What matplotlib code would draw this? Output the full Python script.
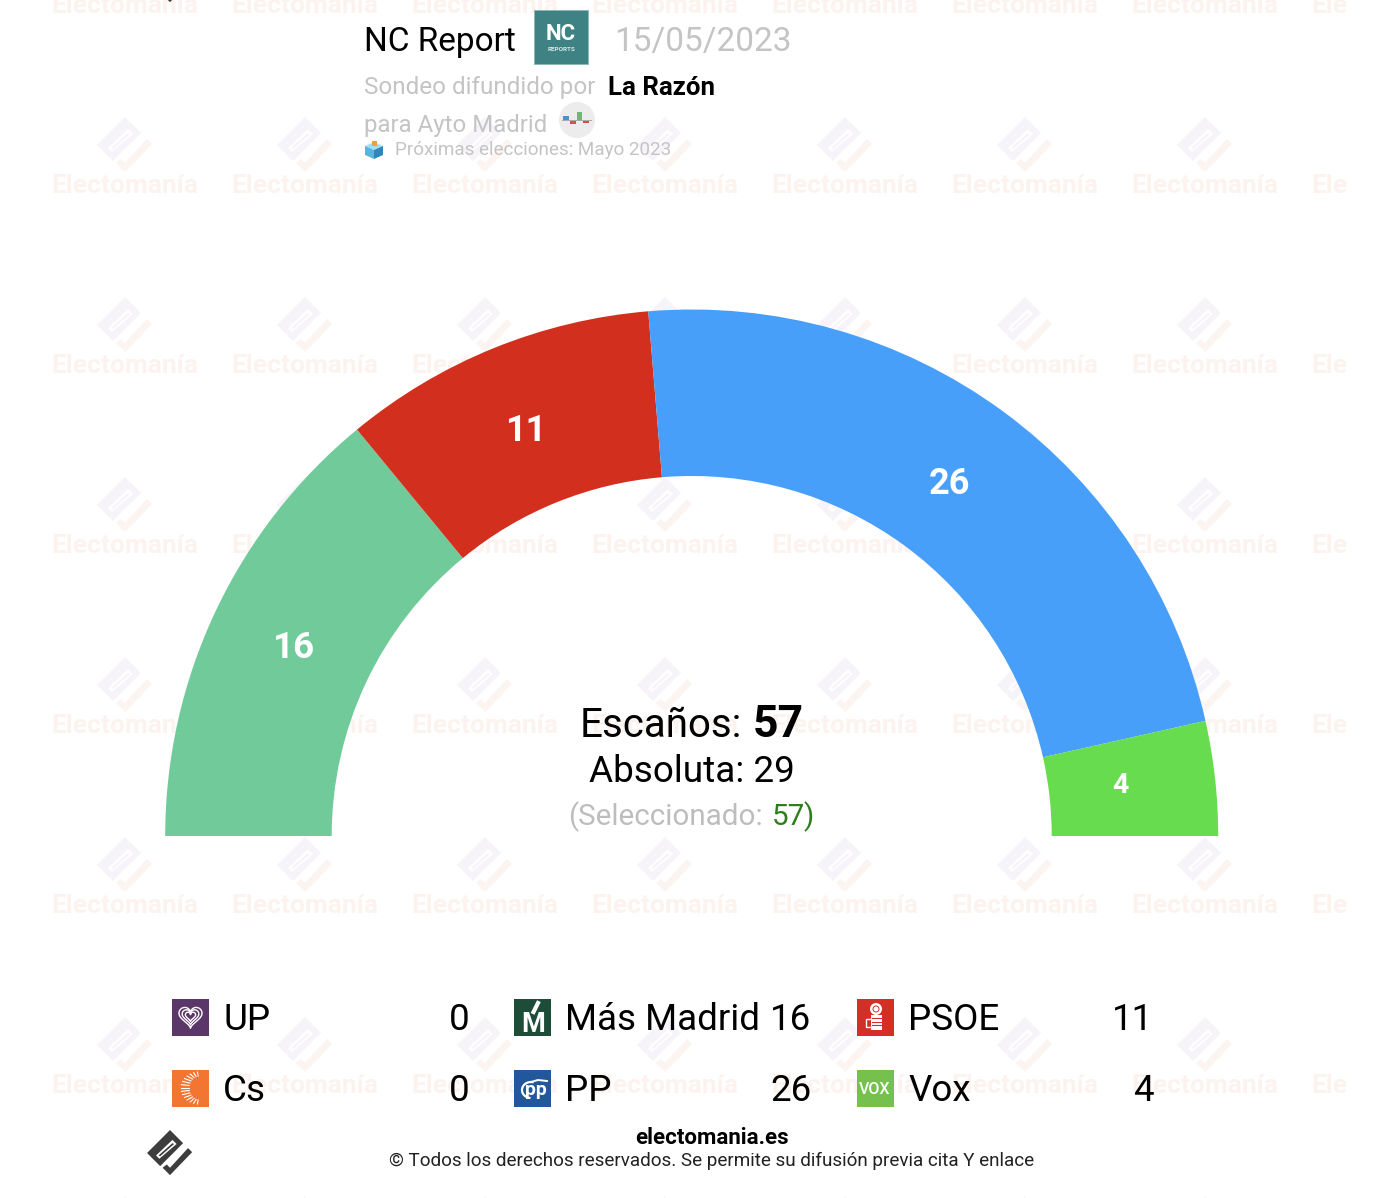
import numpy as np
import matplotlib
matplotlib.use("Agg")
import matplotlib.pyplot as plt
from matplotlib.patches import Polygon, Rectangle, Circle

W, H = 1374, 1198
parties = ["UP", "Más Madrid", "PSOE", "Cs", "PP", "Vox"]
seats = [0, 16, 11, 0, 26, 4]
colors = ["#5a3a6e", "#71ca9a", "#d32f1f", "#f3762f", "#479ff9", "#66dc4e"]
icon_colors = ["#5b3668", "#1d4d38", "#d32f27", "#f37532", "#21579b", "#76c04e"]
total_seats = 57
majority = 29
selected = 57
pollster = "NC Report"
poll_date = "15/05/2023"
media = "La Razón"
WM = "Electomanía"

plt.rcParams["font.family"] = ["Roboto", "DejaVu Sans"]
fig = plt.figure(figsize=(W / 100, H / 100), dpi=100, facecolor="white")
ax = fig.add_axes([0, 0, 1, 1])
ax.set_xlim(0, W)
ax.set_ylim(H, 0)
ax.axis("off")

clip = Rectangle((0, 0), 1348, H, transform=ax.transData)

LOGO = [(0, -28), (16, -12), (-12, 16), (-28, 0)]
SLIT = [(3, -16), (8, -11), (-13, 7), (-17, 3)]
SLIT2 = [(3, -12), (5, -11), (-12, 4), (-14, 3)]
CHECK = [(22, -6), (27, -1), (0, 27), (-9, 18), (-4, 14), (0, 18)]


def logo(cx, cy, s, c1, c2, z=1):
    for pts, c in [(LOGO, c1), (SLIT, "white"), (SLIT2, c1), (CHECK, c2)]:
        p = Polygon([(cx + s * x, cy + s * y) for x, y in pts], closed=True, fc=c, ec="none", zorder=z)
        ax.add_patch(p)
        p.set_clip_path(clip)


for i in range(8):
    for j in range(7):
        cx = 125 + 180 * i
        cy = -35 + 180 * j
        logo(cx, cy, 1, "#f6f3f9", "#fbf4f0")
        t = ax.text(cx, cy + 41, WM, ha="center", va="center", fontsize=19, fontweight="bold",
                    color="#fcf3ef", zorder=1, clip_on=True)
        t.set_clip_path(clip)
    logo(125 + 180 * i, 1225, 1, "#e8e8e8", "#f5f5f5")

# semicircle
CX, CY, R_OUT, R_IN = 691.7, 836, 526.5, 360
vals = seats + [sum(seats)]
wedges, _ = ax.pie(vals, colors=colors + ["none"], startangle=180, counterclock=True,
                   radius=R_OUT, center=(CX, CY), frame=True, wedgeprops=dict(width=R_OUT - R_IN, lw=0))
ax.set_xlim(0, W)
ax.set_ylim(H, 0)
ax.set_aspect("auto")
ax.axis("off")
for w in wedges:
    w.set_zorder(3)

label_style = {16: (440, 0, 26.5), 11: (440, 3, 26), 26: (436, -1, 26), 4: (431, -3, 20.5)}
cum = 0
for n, v in zip(parties, seats):
    if v:
        r, dy, fs = label_style[v]
        a = np.deg2rad(180 * (cum + v / 2) / total_seats)
        ax.text(CX - r * np.cos(a), CY - r * np.sin(a) + dy, str(v), ha="center", va="center",
                color="white", fontweight="bold", fontsize=fs, zorder=4)
    cum += v

# centre text
ax.text(742, 737, "Escaños:", ha="right", va="baseline", fontsize=29, zorder=5, color="black")
ax.text(753, 737, str(total_seats), ha="left", va="baseline", fontsize=32, fontweight="bold", zorder=5, color="black")
ax.text(692, 782, f"Absoluta: {majority}", ha="center", va="baseline", fontsize=26.6, zorder=5, color="black")
ax.text(763, 825, "(Seleccionado:", ha="right", va="baseline", fontsize=21.3, color="#bdbdbd", zorder=5)
ax.text(771.5, 825, str(selected), ha="left", va="baseline", fontsize=21.3, color="#2f7d1e", zorder=5)
ax.text(803, 825, ")", ha="left", va="baseline", fontsize=21.3, color="#2f7d1e", zorder=5)

# header
ax.text(364, 51, pollster, fontsize=24, color="black", va="baseline", zorder=5)
ax.add_patch(Rectangle((534, 10), 54, 54, fc="#3f8283", ec="#8db8b8", lw=0.7, zorder=5))
ax.text(561, 34, "NC", fontsize=16, fontweight="bold", color="white", ha="center", va="center", zorder=6)
ax.text(561, 49.5, "REPORTS", fontsize=4.6, fontweight="bold", color="#d8e8e8", ha="center", va="center", zorder=6)
ax.text(614, 51, poll_date, fontsize=24, color="#c4c4c4", va="baseline", zorder=5)
ax.text(364, 94, "Sondeo difundido por", fontsize=17.5, color="#c4c4c4", va="baseline", zorder=5)
ax.text(608, 95, media, fontsize=18.6, fontweight="bold", color="black", va="baseline", zorder=5)
ax.text(364, 132, "para Ayto Madrid", fontsize=17.3, color="#c4c4c4", va="baseline", zorder=5)
ax.add_patch(Circle((577, 120), 18, fc="#ececec", ec="none", zorder=5))
for x0, y0, w_, h_, c in [(563, 116, 6, 4, "#4a8fd0"), (570, 120.5, 6, 3.5, "#d9503c"),
                          (577, 112, 5, 8, "#6cba6c"), (583, 120.5, 6, 2.5, "#d9503c")]:
    ax.add_patch(Rectangle((x0, y0), w_, h_, fc=c, ec="none", zorder=6))
ax.plot([562, 591], [120.3, 120.3], color="#aaaaaa", lw=0.7, zorder=6)
# ballot box
ax.add_patch(Polygon([(365, 146), (374, 142), (383, 146), (374, 150)], fc="#a6dcee", ec="none", zorder=6))
ax.add_patch(Polygon([(365, 146), (374, 150), (374, 159), (365, 155)], fc="#5ab4dc", ec="none", zorder=6))
ax.add_patch(Polygon([(374, 150), (383, 146), (383, 155), (374, 159)], fc="#2f86b8", ec="none", zorder=6))
ax.add_patch(Rectangle((372, 141), 5, 5, fc="#f0a040", ec="none", zorder=7))
ax.text(395, 155, "Próximas elecciones: Mayo 2023", fontsize=13.6, color="#c4c4c4", va="baseline", zorder=5)

# legend
col_icon = [172, 514, 857]
col_val = [469.5, 811.5, 1153.5]
row_y = [999, 1070]
for k, (n, v, c) in enumerate(zip(parties, seats, icon_colors)):
    x = col_icon[k % 3]
    y = row_y[k // 3]
    ax.add_patch(Rectangle((x, y), 36.5, 36.5, fc=c, ec="none", lw=0, zorder=5))
    ax.text(x + 51, y + 31, n, fontsize=26.5, color="black", va="baseline", zorder=5)
    ax.text(col_val[k % 3], y + 31, str(v), fontsize=26.5, color="black", va="baseline", ha="right", zorder=5)

# icon glyphs
ax.text(536, 1095, "pp", fontsize=14, fontweight="bold", color="white", ha="center", va="baseline", zorder=6)
th = np.deg2rad(np.linspace(80, 260, 30))
ax.plot(531 + 9 * np.cos(th), 1090 - 8 * np.sin(th), color="white", lw=1.6, zorder=6)
ax.plot([531, 538, 547], [1082, 1080, 1081], color="white", lw=1.4, zorder=6)
ax.text(875, 1089, "VOX", fontsize=11.5, fontweight="medium", color="white", ha="center", va="center", zorder=6)
ax.text(533.5, 1032, "M", fontsize=19.5, fontweight="bold", color="white", ha="center", va="baseline", zorder=6)
ax.plot([533.5, 538], [1012, 1003], color="white", lw=3, zorder=6)
th = np.linspace(0, 2 * np.pi, 120)
hx, hy = 16 * np.sin(th) ** 3, 13 * np.cos(th) - 5 * np.cos(2 * th) - 2 * np.cos(3 * th) - np.cos(4 * th)
for s in [0.72, 0.52, 0.32]:
    ax.plot(190.5 + s * hx, 1016 - s * hy, color="white", lw=1, zorder=6)
for a in np.linspace(-85, 85, 15):
    r = np.deg2rad(a)
    ax.plot([199 - 10 * np.cos(r), 199 - 18 * np.cos(r)],
            [1088 - 12 * np.sin(r), 1088 - 16 * np.sin(r)], color="white", lw=0.8, zorder=6)
ax.add_patch(Circle((876, 1009), 6, fc="white", ec="none", zorder=6))
ax.add_patch(Circle((876, 1009), 3, fc="none", ec="#d32f27", lw=0.7, zorder=7))
ax.add_patch(Rectangle((871, 1015), 11, 15, fc="white", ec="none", zorder=6))
ax.add_patch(Rectangle((865.5, 1019), 7, 8, fc="none", ec="white", lw=1, zorder=6))
for yy in [1018, 1021.5, 1025]:
    ax.plot([872, 882], [yy, yy], color="#d32f27", lw=0.8, zorder=7)

# footer
logo(170, 1153, 0.82, "#3d3d3d", "#3d3d3d", z=6)
logo(170, -20, 0.82, "#3d3d3d", "#3d3d3d", z=6)
ax.text(711.5, 1144, "electomania.es", fontsize=16, fontweight="bold", color="black", ha="center", va="baseline", zorder=5)
ax.text(711.5, 1166, "© Todos los derechos reservados. Se permite su difusión previa cita Y enlace",
        fontsize=13.6, color="#222222", ha="center", va="baseline", zorder=5)

fig.savefig("out.png", dpi=100, facecolor="white")
